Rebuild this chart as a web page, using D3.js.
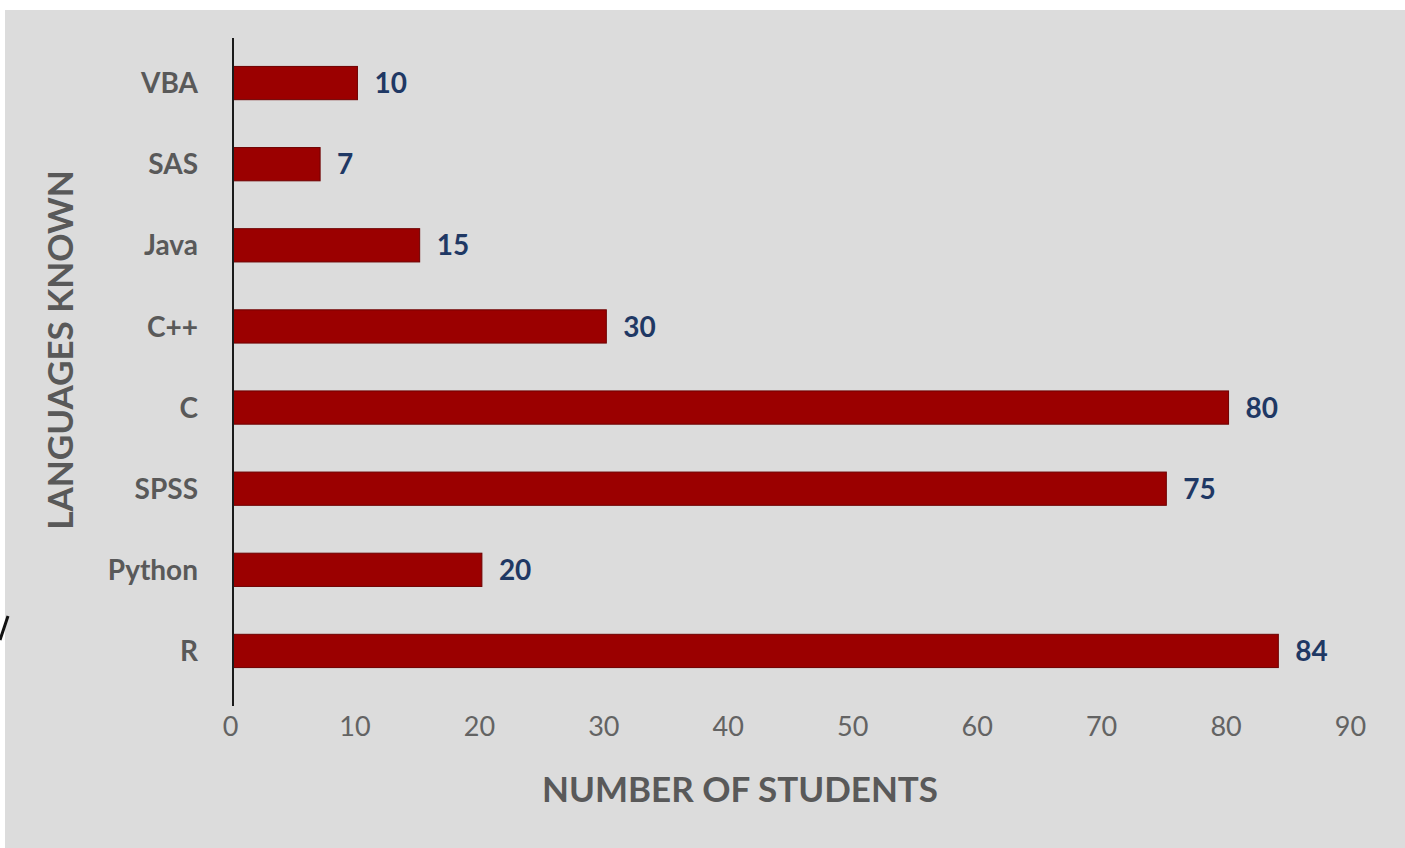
<!DOCTYPE html>
<html><head><meta charset="utf-8">
<script src="https://cdn.jsdelivr.net/npm/d3@7"></script>
<style>
html,body{margin:0;padding:0;background:#fff;}
svg{display:block;font-family:Lato,"Open Sans",sans-serif;}
</style></head>
<body>
<svg id="c" width="1405" height="848"></svg>
<script>
const categories = ["VBA","SAS","Java","C++","C","SPSS","Python","R"];
const values = [10,7,15,30,80,75,20,84];
const xTicks = [0,10,20,30,40,50,60,70,80,90];
const xTitle = "NUMBER OF STUDENTS";
const yTitle = "LANGUAGES KNOWN";

const data = categories.map((c,i)=>({cat:c, val:values[i]}));
const svg = d3.select("#c");

svg.append("rect").attr("x",5).attr("y",10).attr("width",1400).attr("height",838).attr("fill","#dcdcdc");

const x = d3.scaleLinear().domain([0,90]).range([233,1353]);
const y = d3.scaleBand().domain(categories).range([42.5,691.5]).paddingInner(0.59).paddingOuter(0.295);

// bars
svg.append("g").selectAll("rect").data(data).join("rect")
  .attr("x", x(0))
  .attr("y", d=>y(d.cat))
  .attr("width", d=>x(d.val)-x(0))
  .attr("height", y.bandwidth())
  .attr("fill","#9b0000")
  .attr("stroke","#6e0000")
  .attr("stroke-width",1);

// y axis
const yAxis = d3.axisLeft(y).tickSize(0).tickPadding(35);
const gy = svg.append("g").attr("transform",`translate(${x(0)},0)`).call(yAxis);
gy.select(".domain").remove();
gy.selectAll("text").attr("font-size",28).attr("font-weight","bold").attr("fill","#595959")
  .attr("font-family","Lato,'Open Sans',sans-serif").attr("dy","0.36em");
svg.append("line").attr("x1",x(0)).attr("x2",x(0)).attr("y1",38).attr("y2",706)
  .attr("stroke","#1a1a1a").attr("stroke-width",2);

// x axis (labels only)
const xAxis = d3.axisBottom(x).tickValues(xTicks).tickSize(0).tickPadding(11);
const gx = svg.append("g").attr("transform",`translate(0,706)`).call(xAxis);
gx.select(".domain").remove();
gx.selectAll("text").attr("font-size",27).attr("fill","#636363")
  .attr("font-family","Lato,'Open Sans',sans-serif").attr("dx",-3);

// value labels
svg.append("g").selectAll("text").data(data).join("text")
  .attr("x", d=>x(d.val)+17)
  .attr("y", d=>y(d.cat)+y.bandwidth()/2)
  .attr("dy","0.36em")
  .attr("font-size",28).attr("font-weight","bold").attr("fill","#1f3864")
  .text(d=>d.val);

// titles
svg.append("text").attr("x",740).attr("y",802).attr("text-anchor","middle")
  .attr("font-size",35).attr("font-weight","bold").attr("fill","#595959").text(xTitle);
svg.append("text").attr("transform","translate(73,350) rotate(-90)").attr("text-anchor","middle")
  .attr("font-size",35).attr("font-weight","bold").attr("fill","#595959").text(yTitle);

// edge artifact (cut-off stroke at left edge)
svg.append("line").attr("x1",0).attr("y1",640).attr("x2",8).attr("y2",616)
  .attr("stroke","#111").attr("stroke-width",3);
</script>
</body></html>
